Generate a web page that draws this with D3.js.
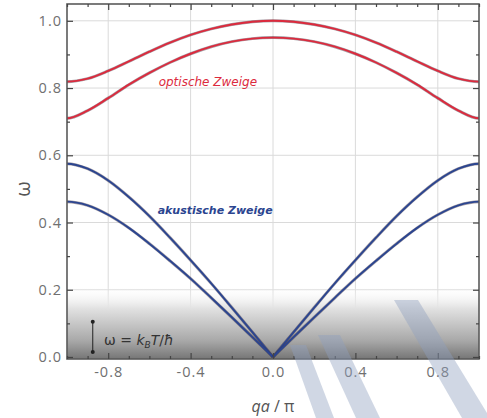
<!DOCTYPE html>
<html>
<head>
<meta charset="utf-8">
<script src="https://cdn.jsdelivr.net/npm/d3@7"></script>
<style>
  html, body { margin: 0; padding: 0; background: #fff; }
  svg { display: block; }
</style>
</head>
<body>
<svg id="chart" width="487" height="418"></svg>
<script>
// Reduced wave vector qa/pi (half zone, the branches are symmetric)
const qHalf = [0, 0.1, 0.2, 0.3, 0.4, 0.5, 0.6, 0.7, 0.8, 0.9, 1.0];

// Optical branches (normalized frequency)
const optUpper = [1.000, 0.997, 0.989, 0.976, 0.958, 0.935, 0.908, 0.879, 0.851, 0.828, 0.819];
const optLower = [0.950, 0.947, 0.938, 0.923, 0.902, 0.876, 0.845, 0.810, 0.770, 0.733, 0.710];

// Acoustic branches
const acUpper = [0.000, 0.074, 0.147, 0.219, 0.288, 0.355, 0.419, 0.476, 0.525, 0.560, 0.575];
const acLower = [0.000, 0.059, 0.118, 0.176, 0.233, 0.286, 0.337, 0.384, 0.423, 0.451, 0.462];

const xTickLabels = ["-0.8", "-0.4", "0.0", "0.4", "0.8"];
const yTickLabels = ["0.0", "0.2", "0.4", "0.6", "0.8", "1.0"];

const branchLabels = ["optische Zweige", "akustische Zweige"];

const svg = d3.select("#chart");
const pLeft = 67, pRight = 479, pTop = 4, pBottom = 359;

const x = d3.scaleLinear().domain([-1, 1]).range([pLeft, pRight]);
const y = d3.scaleLinear().domain([-0.006, 1.05]).range([pBottom, pTop]);

// One half of the zone (sign = +1 or -1), continued one step past the
// zone edge using the mirror symmetry about q = ±1 so the curve is flat there.
function halfZone(vals, sign) {
  const n = qHalf.length;
  const pts = qHalf.map((q, i) => [sign * q, vals[i]]);
  pts.push([sign * (2 - qHalf[n - 2]), vals[n - 2]]);
  return sign < 0 ? pts.reverse() : pts;
}
function fullZone(vals) {
  return halfZone(vals, -1).concat(halfZone(vals, 1).slice(1));
}

const defs = svg.append("defs");
const grad = defs.append("linearGradient")
  .attr("id", "thermal").attr("x1", 0).attr("y1", 0).attr("x2", 0).attr("y2", 1);
grad.append("stop").attr("offset", "0%").attr("stop-color", "#ffffff").attr("stop-opacity", 0);
grad.append("stop").attr("offset", "30%").attr("stop-color", "#e2e2e2").attr("stop-opacity", 1);
grad.append("stop").attr("offset", "75%").attr("stop-color", "#a8a8a8").attr("stop-opacity", 1);
grad.append("stop").attr("offset", "100%").attr("stop-color", "#767676").attr("stop-opacity", 1);

defs.append("clipPath").attr("id", "plotClip")
  .append("rect").attr("x", pLeft).attr("y", pTop).attr("width", pRight - pLeft).attr("height", pBottom - pTop);

// Grid
const gridX = [-0.8, -0.4, 0, 0.4, 0.8];
const gridY = [0.2, 0.4, 0.6, 0.8, 1.0];
svg.append("g").selectAll("line").data(gridX).join("line")
  .attr("x1", d => x(d)).attr("x2", d => x(d))
  .attr("y1", pTop).attr("y2", pBottom)
  .attr("stroke", "#dadada").attr("stroke-width", 1);
svg.append("g").selectAll("line").data(gridY).join("line")
  .attr("x1", pLeft).attr("x2", pRight)
  .attr("y1", d => y(d)).attr("y2", d => y(d))
  .attr("stroke", "#dadada").attr("stroke-width", 1);

// Thermal energy band k_B T / hbar
svg.append("rect")
  .attr("x", pLeft).attr("width", pRight - pLeft)
  .attr("y", y(0.21)).attr("height", pBottom - y(0.21))
  .attr("fill", "url(#thermal)");

// Dispersion curves
const line = d3.line().x(d => x(d[0])).y(d => y(d[1])).curve(d3.curveCatmullRom.alpha(0.5));
const curves = [
  { pts: [fullZone(optUpper)], c: "#dc2a3d" },
  { pts: [fullZone(optLower)], c: "#dc2a3d" },
  { pts: [halfZone(acUpper, -1), halfZone(acUpper, 1)], c: "#2b4590" },
  { pts: [halfZone(acLower, -1), halfZone(acLower, 1)], c: "#2b4590" }
];
const cg = svg.append("g").attr("clip-path", "url(#plotClip)");
curves.forEach(cv => {
  cv.pts.forEach(p => {
    cg.append("path").datum(p)
      .attr("d", line).attr("fill", "none")
      .attr("stroke", "#3a2a3a").attr("stroke-width", 3).attr("stroke-opacity", 0.45);
    cg.append("path").datum(p)
      .attr("d", line).attr("fill", "none")
      .attr("stroke", cv.c).attr("stroke-width", 1.9);
  });
});

// Branch labels
svg.append("text").attr("x", x(-0.555)).attr("y", y(0.807))
  .attr("font-family", "'DejaVu Sans', sans-serif").attr("font-style", "italic")
  .attr("font-size", 12).attr("fill", "#dc2a3d").text(branchLabels[0]);
svg.append("text").attr("x", x(-0.56)).attr("y", y(0.425))
  .attr("font-family", "'DejaVu Sans', sans-serif").attr("font-style", "italic")
  .attr("font-weight", "bold")
  .attr("font-size", 11).attr("fill", "#2b4590").text(branchLabels[1]);

// Thermal annotation: double-ended marker and formula
const ax = x(-0.875);
svg.append("line").attr("x1", ax).attr("x2", ax).attr("y1", y(0.105)).attr("y2", y(0.015))
  .attr("stroke", "#222").attr("stroke-width", 1);
[0.105, 0.015].forEach(v => svg.append("circle").attr("cx", ax).attr("cy", y(v)).attr("r", 2).attr("fill", "#222"));
const ft = svg.append("text").attr("x", x(-0.82)).attr("y", y(0.035))
  .attr("font-family", "'DejaVu Sans', sans-serif").attr("font-size", 14).attr("fill", "#333");
ft.append("tspan").text("ω = ");
ft.append("tspan").attr("font-style", "italic").text("k");
ft.append("tspan").attr("font-style", "italic").attr("font-size", 9).attr("dy", 3).text("B");
ft.append("tspan").attr("font-style", "italic").attr("dy", -3).text("T");
ft.append("tspan").text("/");
ft.append("tspan").attr("font-style", "italic").text("ħ");

// Frame
svg.append("rect").attr("x", pLeft).attr("y", pTop).attr("width", pRight - pLeft).attr("height", pBottom - pTop)
  .attr("fill", "none").attr("stroke", "#5a5a5a").attr("stroke-width", 1.6);

// Axes with inward ticks (major + minor)
const xMajor = xTickLabels.map(Number);
const xMinor = d3.range(-10, 11).map(i => i / 10).filter(v => !xMajor.some(m => Math.abs(m - v) < 1e-9));
const yMajor = yTickLabels.map(Number);
const yMinor = d3.range(0, 11).map(i => i / 10).filter(v => !yMajor.some(m => Math.abs(m - v) < 1e-9));

function styleAxis(g) {
  g.select(".domain").remove();
  g.selectAll(".tick line").attr("stroke", "#444").attr("stroke-width", 1.2);
  g.selectAll(".tick text").attr("fill", "#707070")
    .attr("font-family", "'Open Sans', sans-serif").attr("font-size", 14.5)
    .attr("letter-spacing", 1);
}

svg.append("g").attr("transform", `translate(0,${pBottom})`)
  .call(d3.axisBottom(x).tickValues(xMajor).tickFormat((d, i) => xTickLabels[i]).tickSizeInner(-6).tickPadding(8))
  .call(styleAxis);
svg.append("g").attr("transform", `translate(0,${pBottom})`)
  .call(d3.axisBottom(x).tickValues(xMinor).tickFormat("").tickSizeInner(-3))
  .call(styleAxis);
svg.append("g").attr("transform", `translate(0,${pTop})`)
  .call(d3.axisTop(x).tickValues(xMajor).tickFormat("").tickSizeInner(-6))
  .call(styleAxis);
svg.append("g").attr("transform", `translate(0,${pTop})`)
  .call(d3.axisTop(x).tickValues(xMinor).tickFormat("").tickSizeInner(-3))
  .call(styleAxis);

svg.append("g").attr("transform", `translate(${pLeft},0)`)
  .call(d3.axisLeft(y).tickValues(yMajor).tickFormat((d, i) => yTickLabels[i]).tickSizeInner(-6).tickPadding(5))
  .call(styleAxis);
svg.append("g").attr("transform", `translate(${pLeft},0)`)
  .call(d3.axisLeft(y).tickValues(yMinor).tickFormat("").tickSizeInner(-3))
  .call(styleAxis);
svg.append("g").attr("transform", `translate(${pRight},0)`)
  .call(d3.axisRight(y).tickValues(yMajor).tickFormat("").tickSizeInner(-6))
  .call(styleAxis);
svg.append("g").attr("transform", `translate(${pRight},0)`)
  .call(d3.axisRight(y).tickValues(yMinor).tickFormat("").tickSizeInner(-3))
  .call(styleAxis);

// Axis titles
const xt = svg.append("text").attr("x", x(0)).attr("y", 412).attr("text-anchor", "middle")
  .attr("font-family", "'Open Sans', sans-serif").attr("font-size", 16).attr("fill", "#555");
xt.append("tspan").attr("font-style", "italic").text("qa");
xt.append("tspan").text(" / π");

svg.append("text").attr("transform", `translate(30,${y(0.5)}) rotate(-90)`)
  .attr("text-anchor", "middle")
  .attr("font-family", "'Open Sans', sans-serif").attr("font-size", 20).attr("fill", "#555").text("ω");

// Pale diagonal bands over the lower right
const bands = [
  [[290, 345], [306, 345], [334, 418], [316, 418]],
  [[318, 335], [340, 335], [380, 418], [356, 418]],
  [[394, 300], [418, 300], [490, 418], [462, 418]]
];
svg.append("g").selectAll("path").data(bands).join("path")
  .attr("d", d => d3.line()(d) + "Z")
  .attr("fill", "#8ea0bf").attr("fill-opacity", 0.42);
</script>
</body>
</html>
